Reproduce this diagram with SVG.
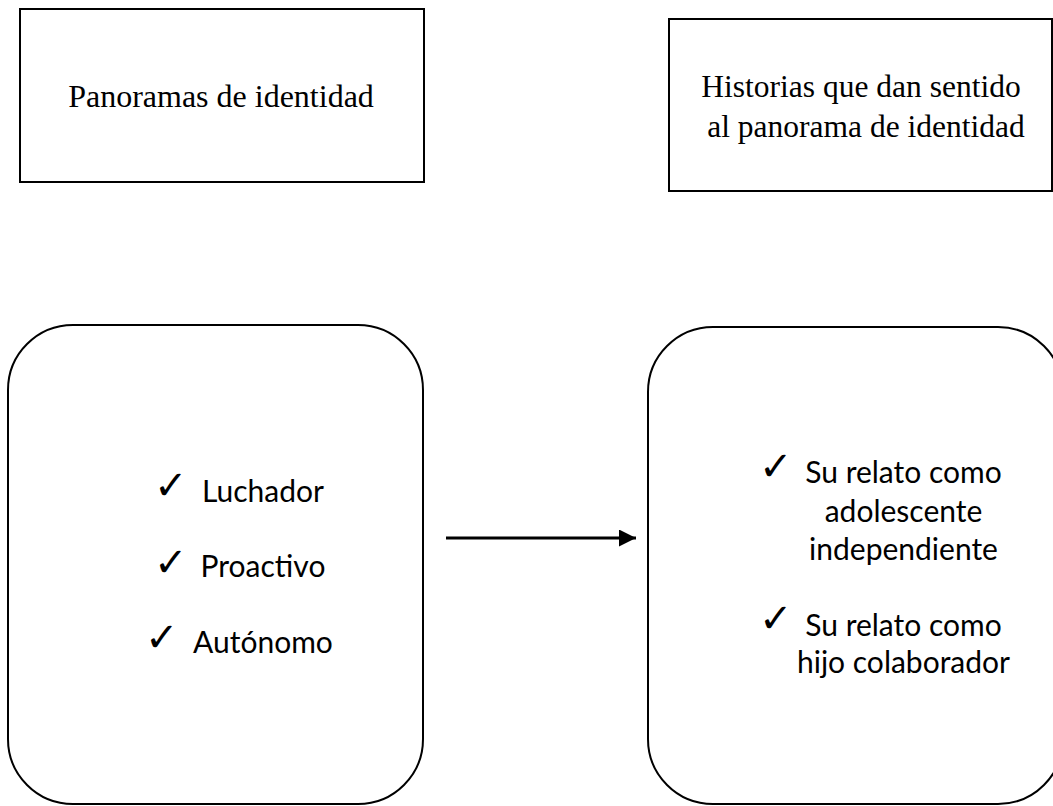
<svg xmlns="http://www.w3.org/2000/svg" width="1053" height="806" viewBox="0 0 1053 806">
  <style>
    .box { fill: #ffffff; stroke: #000000; stroke-width: 2; }
    .title { font-family: "Liberation Serif", "Times New Roman", serif; font-size: 31.5px; fill: #000000; text-anchor: middle; }
    .item { font-family: Lato, "Open Sans", sans-serif; font-size: 30px; fill: #000000; text-anchor: middle; }
    .check { font-family: "DejaVu Sans", sans-serif; font-size: 40px; fill: #000000; }
    .conn { stroke: #000000; stroke-width: 3; fill: none; }
  </style>
  <defs>
    <marker id="arrow" markerWidth="17" markerHeight="17" refX="17" refY="8.5" orient="auto" markerUnits="userSpaceOnUse">
      <path d="M0,0 L17,8.5 L0,17 Z" fill="#000000"/>
    </marker>
  </defs>
  <rect width="1053" height="806" fill="#ffffff"/>

  <g id="node-panoramas">
    <rect class="box" x="20" y="9" width="404" height="173"/>
    <text class="title" x="221" y="107" style="font-size:32px">Panoramas de identidad</text>
  </g>

  <g id="node-historias">
    <rect class="box" x="669" y="19" width="383" height="172"/>
    <text class="title" x="861" y="97">Historias que dan sentido</text>
    <text class="title" x="866" y="137">al panorama de identidad</text>
  </g>

  <g id="node-rasgos">
    <rect class="box" x="8" y="325" width="415" height="479" rx="65" ry="65"/>
    <text class="check" x="154" y="499">✓</text>
    <text class="item" x="263" y="502">Luchador</text>
    <text class="check" x="154" y="576">✓</text>
    <text class="item" x="263" y="577">Proactivo</text>
    <text class="check" x="145" y="651">✓</text>
    <text class="item" x="263" y="653">Autónomo</text>
  </g>

  <g id="node-relatos">
    <rect class="box" x="648" y="327" width="415" height="477" rx="65" ry="65"/>
    <text class="check" x="759" y="480">✓</text>
    <text class="item" x="903.5" y="483">Su relato como</text>
    <text class="item" x="903.5" y="522">adolescente</text>
    <text class="item" x="903.5" y="560">independiente</text>
    <text class="check" x="759" y="632">✓</text>
    <text class="item" x="903.5" y="636">Su relato como</text>
    <text class="item" x="903.5" y="673">hijo colaborador</text>
  </g>

  <g id="connectors">
    <line class="conn" x1="446" y1="538" x2="636" y2="538" marker-end="url(#arrow)"/>
  </g>
</svg>
